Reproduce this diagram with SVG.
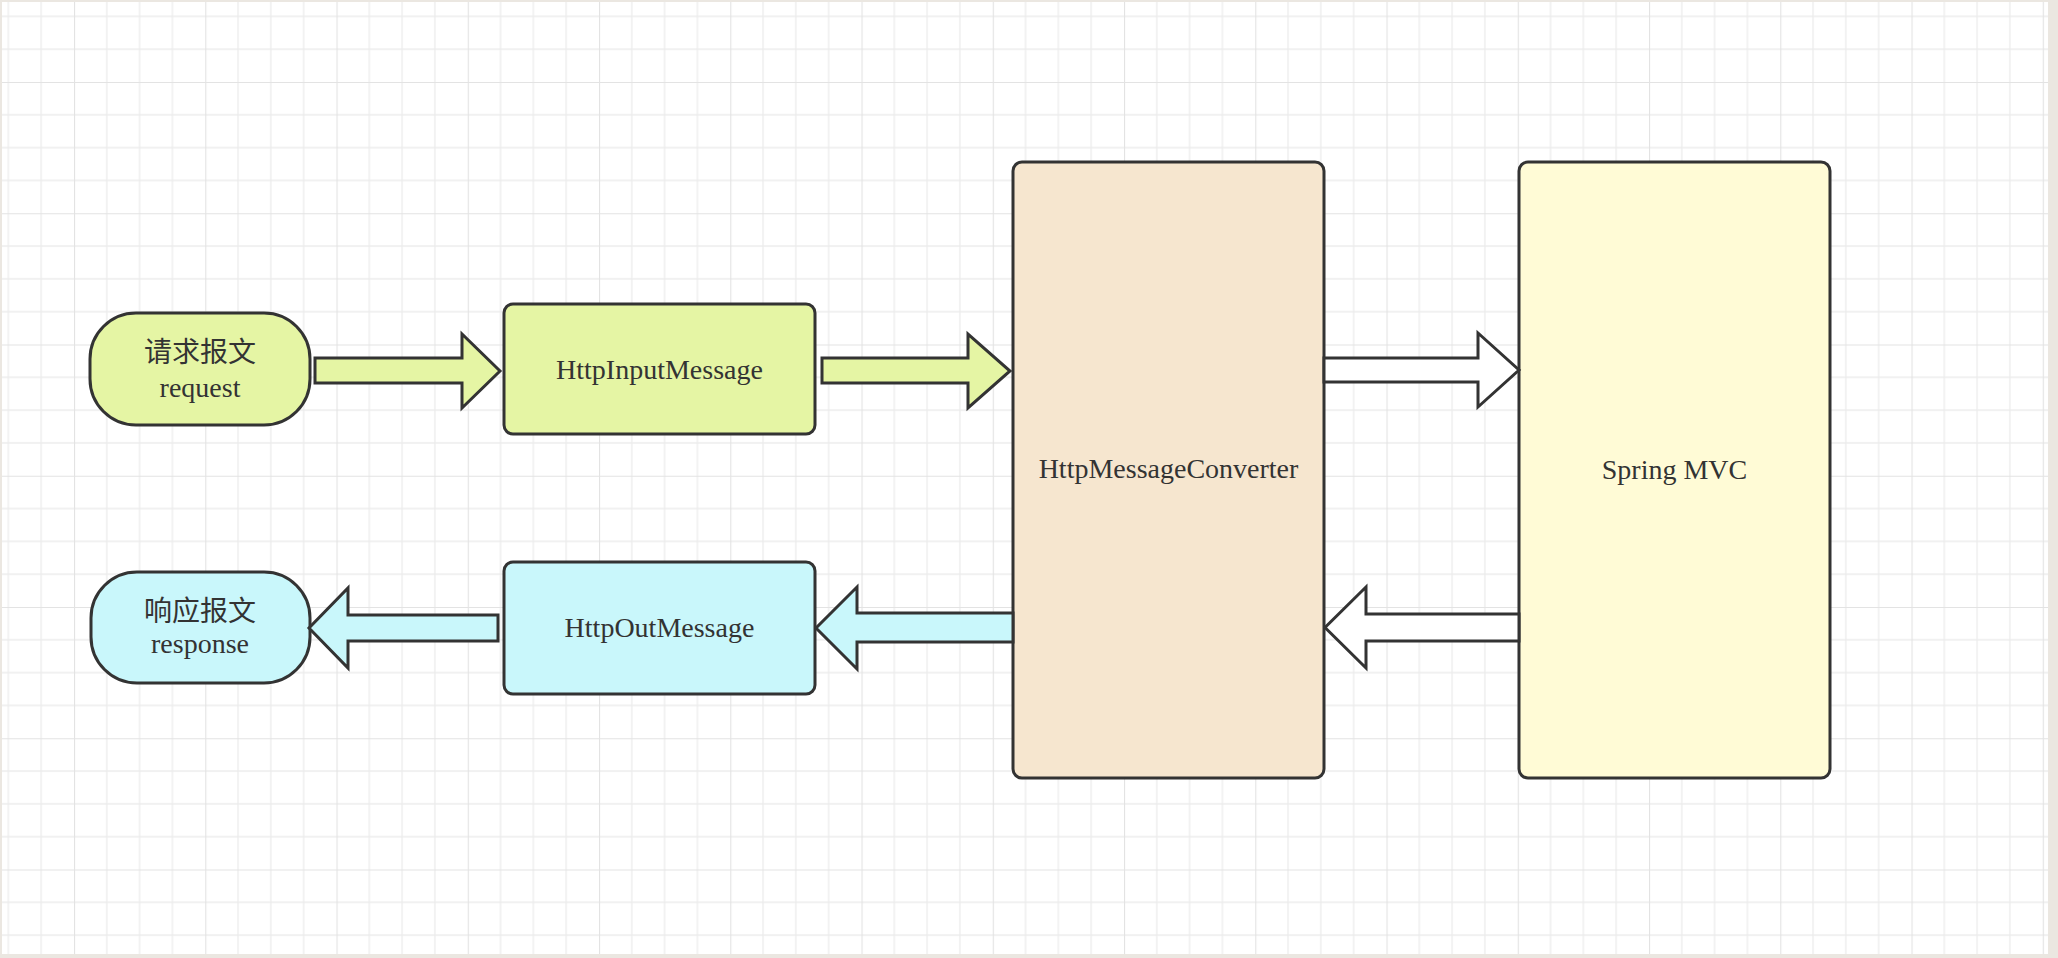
<svg xmlns="http://www.w3.org/2000/svg" width="2058" height="958" viewBox="0 0 2058 958">
  <style>
    .frame { fill: #ebe7e1; }
    .node { stroke: #333333; stroke-width: 3; }
    .green { fill: #e5f5a4; }
    .cyan { fill: #c9f7fb; }
    .tan { fill: #f6e6cf; }
    .yellow { fill: #fffbd6; }
    .white { fill: #ffffff; }
    .arrow { stroke: #333333; stroke-width: 3; stroke-linejoin: miter; }
    .label { font-family: "Liberation Serif", "Noto Sans CJK SC", serif; font-size: 28px; fill: #333333; text-anchor: middle; }
    .thin { stroke: #ececec; stroke-width: 1.3; }
    .thick { stroke: #e3e3e3; stroke-width: 2.2; }
  </style>
  <defs>
    <pattern id="grid" patternUnits="userSpaceOnUse" x="74" y="82" width="131.25" height="131.25">
      <line class="thin" x1="32.8125" y1="0" x2="32.8125" y2="131.25"/>
      <line class="thin" x1="65.625" y1="0" x2="65.625" y2="131.25"/>
      <line class="thin" x1="98.4375" y1="0" x2="98.4375" y2="131.25"/>
      <line class="thin" x1="0" y1="32.8125" x2="131.25" y2="32.8125"/>
      <line class="thin" x1="0" y1="65.625" x2="131.25" y2="65.625"/>
      <line class="thin" x1="0" y1="98.4375" x2="131.25" y2="98.4375"/>
      <line class="thick" x1="0" y1="0" x2="0" y2="131.25"/>
      <line class="thick" x1="0" y1="0" x2="131.25" y2="0"/>
    </pattern>
  </defs>

  <rect class="frame" x="0" y="0" width="2058" height="958"/>
  <rect x="2" y="2" width="2046" height="952" fill="#ffffff"/>
  <rect x="2" y="2" width="2046" height="952" fill="url(#grid)"/>

  <g id="node-request">
    <rect class="node green" x="90" y="313" width="220" height="112" rx="46" ry="46"/>
    <text class="label" x="200" y="362">请求报文</text>
    <text class="label" x="200" y="397">request</text>
  </g>

  <g id="node-response">
    <rect class="node cyan" x="91" y="572" width="219" height="111" rx="46" ry="46"/>
    <text class="label" x="200" y="621">响应报文</text>
    <text class="label" x="200" y="653">response</text>
  </g>

  <g id="node-httpinput">
    <rect class="node green" x="504" y="304" width="311" height="130" rx="9" ry="9"/>
    <text class="label" x="659.5" y="379">HttpInputMessage</text>
  </g>

  <g id="node-httpout">
    <rect class="node cyan" x="504" y="562" width="311" height="132" rx="9" ry="9"/>
    <text class="label" x="659.5" y="637">HttpOutMessage</text>
  </g>

  <g id="node-converter">
    <rect class="node tan" x="1013" y="162" width="311" height="616" rx="9" ry="9"/>
    <text class="label" x="1168.5" y="478">HttpMessageConverter</text>
  </g>

  <g id="node-springmvc">
    <rect class="node yellow" x="1519" y="162" width="311" height="616" rx="9" ry="9"/>
    <text class="label" x="1674.5" y="479">Spring MVC</text>
  </g>

  <g id="connectors">
    <polygon class="arrow green" points="315,358 462,358 462,334 500,371 462,408 462,383 315,383"/>
    <polygon class="arrow green" points="822,358 968,358 968,334 1010,371 968,408 968,383 822,383"/>
    <polygon class="arrow white" points="1324,358 1478,358 1478,333 1519,370 1478,407 1478,382 1324,382"/>
    <polygon class="arrow white" points="1519,614 1366,614 1366,587 1325,627.5 1366,668 1366,641 1519,641"/>
    <polygon class="arrow cyan" points="1013,613 857,613 857,587 816,628 857,669 857,642 1013,642"/>
    <polygon class="arrow cyan" points="498,615 348,615 348,588 309,628 348,668 348,641 498,641"/>
  </g>
</svg>
